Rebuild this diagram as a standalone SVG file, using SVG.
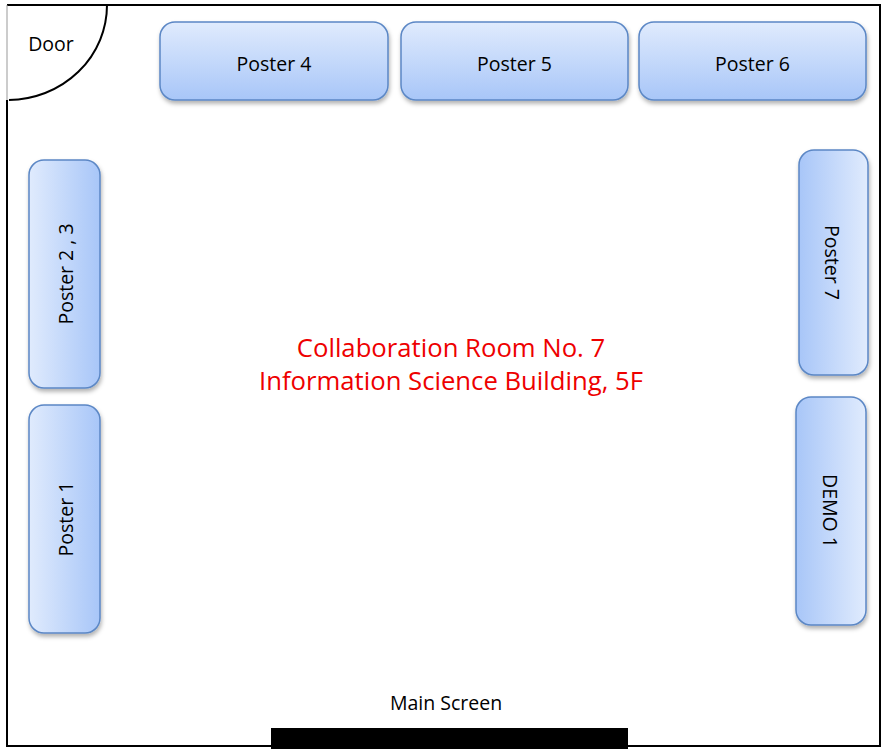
<svg xmlns="http://www.w3.org/2000/svg" width="883" height="749" viewBox="0 0 883 749">
<style>
.box{stroke:#5b87c5;stroke-width:1.5;filter:url(#sh)}
.lbl{font-family:"Open Sans","Liberation Sans",sans-serif;font-size:19.5px;fill:#000;text-anchor:middle}
.title{font-family:"Open Sans","Liberation Sans",sans-serif;font-size:25.7px;fill:#ee0000;text-anchor:middle}
</style>
<defs>
<linearGradient id="gTop" x1="0" y1="0" x2="0" y2="1"><stop offset="0" stop-color="#e0ebfd"/><stop offset="1" stop-color="#a8c6f8"/></linearGradient>
<linearGradient id="gLeft" x1="0" y1="0" x2="1" y2="0"><stop offset="0" stop-color="#e0ebfd"/><stop offset="1" stop-color="#a8c6f8"/></linearGradient>
<linearGradient id="gRight" x1="0" y1="0" x2="1" y2="0"><stop offset="0" stop-color="#a8c6f8"/><stop offset="1" stop-color="#e0ebfd"/></linearGradient>
<filter id="sh" x="-20%" y="-20%" width="140%" height="140%"><feDropShadow dx="1" dy="3" stdDeviation="2" flood-color="#000" flood-opacity="0.3"/></filter>
</defs>
<rect width="883" height="749" fill="#fff"/>
<g id="walls" fill="none">
<path d="M7,100 V746 H880 V5 H7" stroke="#000" stroke-width="2"/>
<path d="M7,5 V100" stroke="#999" stroke-width="1"/>
<path d="M107,5 A99,95 0 0 1 9,100" stroke="#000" stroke-width="2"/>
<rect x="271" y="728" width="357" height="21" fill="#000"/>
</g>
<g id="connectors"></g>
<g id="door"><text class="lbl" x="51" y="51">Door</text></g>
<g id="poster4"><rect class="box" x="160" y="22" width="228" height="78" rx="15" fill="url(#gTop)"/><text class="lbl" x="274" y="71">Poster 4</text></g>
<g id="poster5"><rect class="box" x="401" y="22" width="227" height="78" rx="15" fill="url(#gTop)"/><text class="lbl" x="514.5" y="71">Poster 5</text></g>
<g id="poster6"><rect class="box" x="639" y="22" width="227" height="78" rx="15" fill="url(#gTop)"/><text class="lbl" x="752.5" y="71">Poster 6</text></g>
<g id="poster23"><rect class="box" x="29" y="160" width="71" height="228" rx="15" fill="url(#gLeft)"/><text class="lbl" transform="translate(66,274) rotate(-90)" y="7">Poster 2 , 3</text></g>
<g id="poster1"><rect class="box" x="29" y="405" width="71" height="228" rx="15" fill="url(#gLeft)"/><text class="lbl" transform="translate(66,519) rotate(-90)" y="7">Poster 1</text></g>
<g id="poster7"><rect class="box" x="799" y="150" width="69" height="225" rx="15" fill="url(#gRight)"/><text class="lbl" transform="translate(832,262.5) rotate(90)" y="7">Poster 7</text></g>
<g id="demo1"><rect class="box" x="796" y="397" width="70" height="228" rx="15" fill="url(#gRight)"/><text class="lbl" transform="translate(830,511) rotate(90)" y="7">DEMO 1</text></g>
<g id="title"><text class="title" x="451" y="357">Collaboration Room No. 7</text><text class="title" x="451" y="390">Information Science Building, 5F</text></g>
<g id="screen"><text class="lbl" x="446" y="710">Main Screen</text></g>
</svg>
